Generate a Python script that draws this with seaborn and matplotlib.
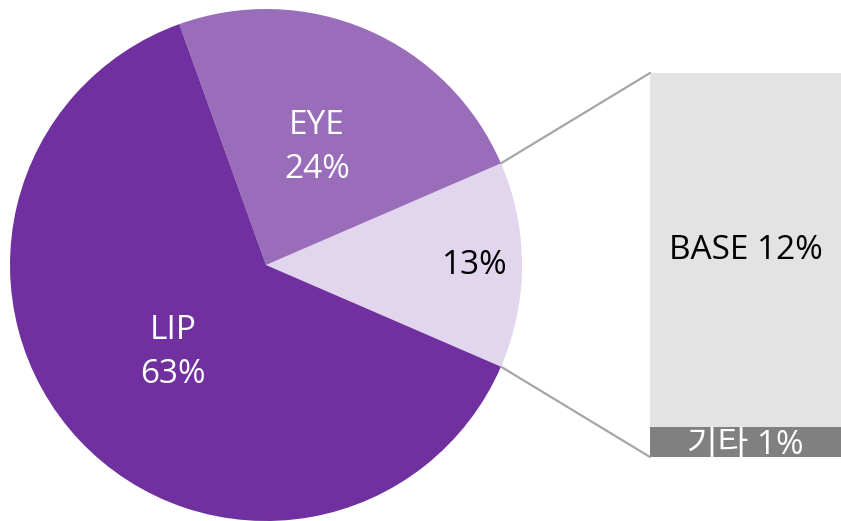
import numpy as np
import matplotlib
matplotlib.use("Agg")
import matplotlib.pyplot as plt
from matplotlib.patches import ConnectionPatch
import seaborn as sns

# --- data ---
pie_labels = ["", "EYE", "LIP"]
pie_values = [13, 24, 63]
pie_colors = ["#e2d5ee", "#9a6dbb", "#7030a0"]

bar_labels = ["BASE", "기타"]
bar_values = [12, 1]
bar_colors = ["#e3e3e3", "#808080"]

sns.set_theme(style="white")
plt.rcParams['font.family'] = ['Open Sans', 'Noto Sans CJK KR', 'DejaVu Sans']

fig = plt.figure(figsize=(8.41, 5.21), dpi=100)
W, H = 841, 521

# pie axes (square, pixel based placement)
ax1 = fig.add_axes([10 / W, 0 / H, 512 / W, 512 / H])
# bar axes
ax2 = fig.add_axes([650 / W, (H - 457) / H, 191 / W, 384 / H])

start = -pie_values[0] / 100 * 360 / 2
wedges, _ = ax1.pie(pie_values, colors=pie_colors, startangle=start,
                    counterclock=True, radius=1,
                    wedgeprops=dict(linewidth=0))
ax1.set_xlim(-1, 1)
ax1.set_ylim(-1, 1)
ax1.set_aspect("equal")
ax1.axis("off")

FS = 24

# labels in pie
for i, w in enumerate(wedges):
    mid = np.deg2rad((w.theta1 + w.theta2) / 2)
    if i == 0:
        r = 0.815
        txt = f"{pie_values[i]}%"
        col = "black"
    else:
        r = 0.5
        txt = f"{pie_labels[i]}\n{pie_values[i]}%"
        col = "white"
    ax1.text(r * np.cos(mid), r * np.sin(mid), txt, ha="center", va="center",
             fontsize=FS, color=col, linespacing=1.42)

# stacked bar: total first, then small part on top
total = sum(bar_values)
sns.barplot(x=[0], y=[total], color=bar_colors[0], ax=ax2, width=1,
            saturation=1, edgecolor="none")
sns.barplot(x=[0], y=[bar_values[1]], color=bar_colors[1], ax=ax2, width=1,
            saturation=1, edgecolor="none")
ax2.set_xlim(-0.5, 0.5)
ax2.set_ylim(0, total)
ax2.axis("off")

ax2.text(0, bar_values[1] + bar_values[0] / 2, f"{bar_labels[0]} {bar_values[0]}%",
         ha="center", va="center", fontsize=FS, color="black")
ax2.text(0, bar_values[1] / 2 - 0.1, f"{bar_labels[1]} {bar_values[1]}%",
         ha="center", va="center", fontsize=FS, color="white")

# connector lines from the small wedge to the bar
w0 = wedges[0]
for ang, yb in [(w0.theta2, total), (w0.theta1, 0)]:
    a = np.deg2rad(ang)
    con = ConnectionPatch(xyA=(np.cos(a), np.sin(a)), coordsA=ax1.transData,
                          xyB=(-0.5, yb), coordsB=ax2.transData,
                          color="#a6a6a6", linewidth=1.6)
    fig.add_artist(con)

fig.savefig("out.png", dpi=100)
